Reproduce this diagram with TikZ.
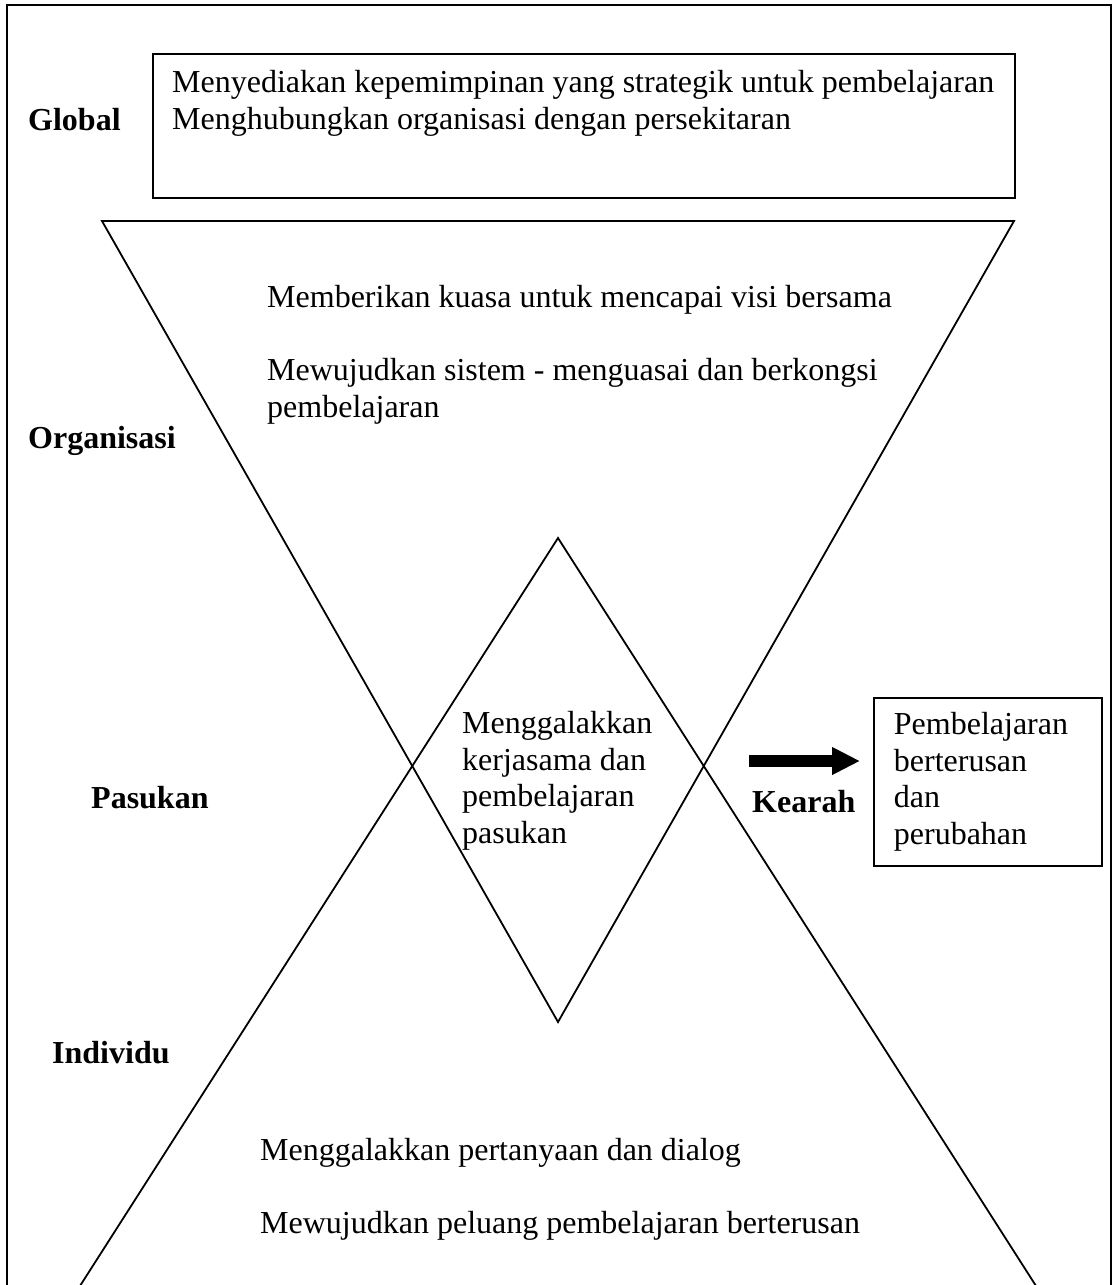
\documentclass[tikz,border=0pt]{standalone}
\usepackage{fontspec}
\setmainfont{Liberation Serif}
\usetikzlibrary{arrows.meta}

\begin{document}
\begin{tikzpicture}[x=1pt, y=-1pt,
        txt/.style={inner sep=0pt, anchor=base west, align=left, font=\fontsize{32}{36.5}\selectfont},
        lvl/.style={txt, font=\fontsize{32}{36.5}\selectfont\bfseries},
        box/.style={draw, line width=1.8pt, rectangle},
        edge/.style={line width=1.8pt, line join=miter},
        bigarrow/.style={line width=12pt, -{Triangle[length=28pt, width=26pt]}}]

    % page and outer frame (bottom edge is cut off)
    \useasboundingbox (0,0) rectangle (1114,1285);
    \clip (0,0) rectangle (1114,1285);
    \draw[line width=2.2pt] (7,5) rectangle (1111,1300);

    % hourglass: inverted triangle and upright triangle
    \coordinate (tl) at (102,221);
    \coordinate (tr) at (1014,221);
    \coordinate (bot) at (558,1022);
    \coordinate (top) at (558,538);
    \coordinate (bl) at (71,1300);
    \coordinate (br) at (1045,1300);
    \draw[edge] (tl) -- (tr) -- (bot) -- cycle;
    \draw[edge] (bl) -- (top) -- (br);

    % level labels
    \node[lvl] (global) at (28,130) {Global};
    \node[lvl] (org) at (28,448) {Organisasi};
    \node[lvl] (team) at (91,808) {Pasukan};
    \node[lvl] (indiv) at (52,1063) {Individu};

    % global box (text placed by the baseline of its last line)
    \node[box, anchor=north west, inner sep=0pt, minimum width=862, minimum height=144] (gbox) at (152,53) {};
    \node[txt] (gtext) at (172,129) {Menyediakan kepemimpinan yang strategik untuk pembelajaran\\Menghubungkan organisasi dengan persekitaran};

    % organisation
    \node[txt] (otext1) at (267,307) {Memberikan kuasa untuk mencapai visi bersama};
    \node[txt] (otext2) at (267,417) {Mewujudkan sistem - menguasai dan berkongsi\\pembelajaran};

    % team, inside the diamond
    \node[txt] (ttext) at (462,843) {Menggalakkan\\kerjasama dan\\pembelajaran\\pasukan};

    % individual
    \node[txt] (itext1) at (260,1160) {Menggalakkan pertanyaan dan dialog};
    \node[txt] (itext2) at (260,1233) {Mewujudkan peluang pembelajaran berterusan};

    % towards
    \node[box, anchor=north west, align=left, text width=188, inner xsep=20pt, minimum height=168,
          font=\fontsize{32}{36.5}\selectfont] (goal) at (873,697) {Pembelajaran\\berterusan\\dan\\perubahan};
    \node[lvl] (toward) at (752,812) {Kearah};
    \coordinate (start) at (749,761);
    \draw[bigarrow, shorten >=13pt] (start) -- (start -| goal.west);
\end{tikzpicture}
\end{document}
